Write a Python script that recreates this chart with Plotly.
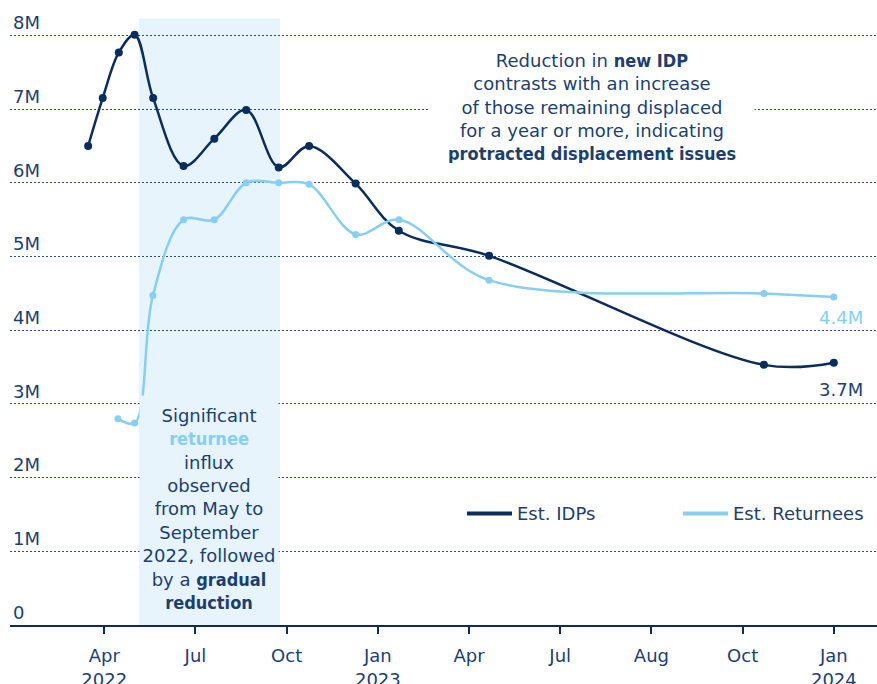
import plotly.graph_objects as go

# x positions in months since Jan 2022 (axis units), y in millions
idp_x = [2.47, 2.95, 3.48, 4.00, 4.61, 5.61, 6.62, 7.67, 8.74, 9.74, 11.27, 12.69, 15.66, 24.70, 27.0]
idp_y = [6.50, 7.15, 7.77, 8.01, 7.15, 6.23, 6.60, 6.99, 6.21, 6.50, 5.99, 5.35, 5.01, 3.53, 3.56]

ret_x = [3.45, 4.00, 4.60, 5.61, 6.62, 7.67, 8.74, 9.74, 11.27, 12.70, 15.66, 24.70, 27.0]
ret_y = [2.80, 2.74, 4.47, 5.50, 5.50, 6.00, 6.00, 5.98, 5.30, 5.50, 4.68, 4.50, 4.45]

tick_vals = [3, 6, 9, 12, 15, 18, 21, 24, 27]
tick_text = ["Apr<br>2022", "Jul", "Oct", "Jan<br>2023", "Apr", "Jul", "Aug", "Oct", "Jan<br>2024"]
y_tick_vals = [0, 1, 2, 3, 4, 5, 6, 7, 8]
y_tick_text = ["0", "1M", "2M", "3M", "4M", "5M", "6M", "7M", "8M"]

end_labels = ["3.7M", "4.4M"]
shade_period = [4.14, 8.78]
shade_top = 8.23

DARK = "#0b2d5b"
LIGHT = "#86cff2"
TEXT = "#1d3f6e"
SHADE = "#e7f4fc"
FONT = "DejaVu Sans"
FS = 18
BOLD = "<span style=\"font-family:'DejaVu Sans Condensed';font-weight:bold\">%s</span>"

W, H = 877, 684
L, R, T, B = 10, 0, 5.5, 58.5
PW, PH = W - L - R, H - T - B


def px_x(p):  # window pixel -> paper x
    return (p - L) / PW


def px_y(p):  # window pixel -> paper y
    return (H - B - p) / PH


fig = go.Figure()
fig.add_trace(go.Scatter(
    x=idp_x, y=idp_y, mode="lines+markers", name="Est. IDPs", showlegend=False,
    line=dict(color=DARK, width=2.5, shape="spline", smoothing=1.0),
    marker=dict(color=DARK, size=8),
))
fig.add_trace(go.Scatter(
    x=ret_x, y=ret_y, mode="lines+markers", name="Est. Returnees", showlegend=False,
    line=dict(color=LIGHT, width=2.5, shape="spline", smoothing=1.0),
    marker=dict(color=LIGHT, size=7),
))
# legend entries (lines only)
fig.add_trace(go.Scatter(x=[None], y=[None], mode="lines", name="Est. IDPs",
                         line=dict(color=DARK, width=4)))
fig.add_trace(go.Scatter(x=[None], y=[None], mode="lines", name="Est. Returnees",
                         line=dict(color=LIGHT, width=4)))

fig.add_shape(type="rect", xref="x", yref="y",
              x0=shade_period[0], x1=shade_period[1], y0=0, y1=shade_top,
              fillcolor=SHADE, line_width=0, layer="below")

# end labels
fig.add_annotation(x=idp_x[-1], y=idp_y[-1], text=end_labels[0], showarrow=False,
                   xshift=7, yshift=-27, font=dict(color=TEXT, size=FS, family=FONT))
fig.add_annotation(x=ret_x[-1], y=ret_y[-1], text=end_labels[1], showarrow=False,
                   xshift=7, yshift=-20, font=dict(color=LIGHT, size=FS, family=FONT))

# shaded-period note
fig.add_annotation(
    x=sum(shade_period) / 2, y=1.57, xref="x", yref="y", xanchor="center", yanchor="middle",
    text=("Significant<br><span style=\"font-family:'DejaVu Sans Condensed';font-weight:bold;color:%s\">returnee</span>"
          "<br>influx<br>observed<br>from May to<br>September<br>2022, followed<br>by a %s<br>%s")
         % (LIGHT, BOLD % "gradual", BOLD % "reduction"),
    showarrow=False, align="center", bgcolor=SHADE, width=138, height=226, borderpad=0,
    font=dict(color=TEXT, size=FS, family=FONT),
)

# top-right note
fig.add_annotation(
    x=px_x(592), y=px_y(106.5), xref="paper", yref="paper",
    xanchor="center", yanchor="middle",
    text=("Reduction in %s<br>contrasts with an increase<br>of those remaining displaced<br>"
          "for a year or more, indicating<br>%s") % (BOLD % "new IDP", BOLD % "protracted displacement issues"),
    showarrow=False, align="center", bgcolor="white", width=324, height=112, borderpad=0,
    font=dict(color=TEXT, size=FS, family=FONT),
)

fig.update_layout(
    width=W, height=H,
    margin=dict(l=L, r=R, t=T, b=B, autoexpand=False),
    paper_bgcolor="white", plot_bgcolor="white",
    font=dict(family=FONT, color=TEXT, size=FS),
    showlegend=True,
    legend=dict(orientation="h", x=px_x(462), y=px_y(514),
                xanchor="left", yanchor="middle", bgcolor="rgba(0,0,0,0)",
                font=dict(size=FS, color=TEXT, family=FONT), entrywidth=156,
                itemwidth=45),
    xaxis=dict(range=[-0.10, 28.42], tickvals=tick_vals, ticktext=tick_text,
               showgrid=False, zeroline=False, showline=True, linecolor=DARK, linewidth=1.5,
               ticks="outside", ticklen=7, tickcolor=DARK, tickwidth=1.5,
               ticklabelstandoff=7,
               tickfont=dict(size=FS, color=TEXT, family=FONT)),
    yaxis=dict(range=[0, 8.4], tickvals=y_tick_vals, ticktext=y_tick_text,
               showgrid=True, gridcolor="#2c4a78", gridwidth=1.3, griddash="1.5px,2.5px",
               zeroline=False, showline=False, ticks="",
               ticklabelposition="inside top",
               tickfont=dict(size=FS, color=TEXT, family=FONT)),
)

fig.write_html(
    "out.html",
    config={"displayModeBar": False},
    post_script="document.body.style.margin='0';document.body.style.overflow='hidden';",
)
